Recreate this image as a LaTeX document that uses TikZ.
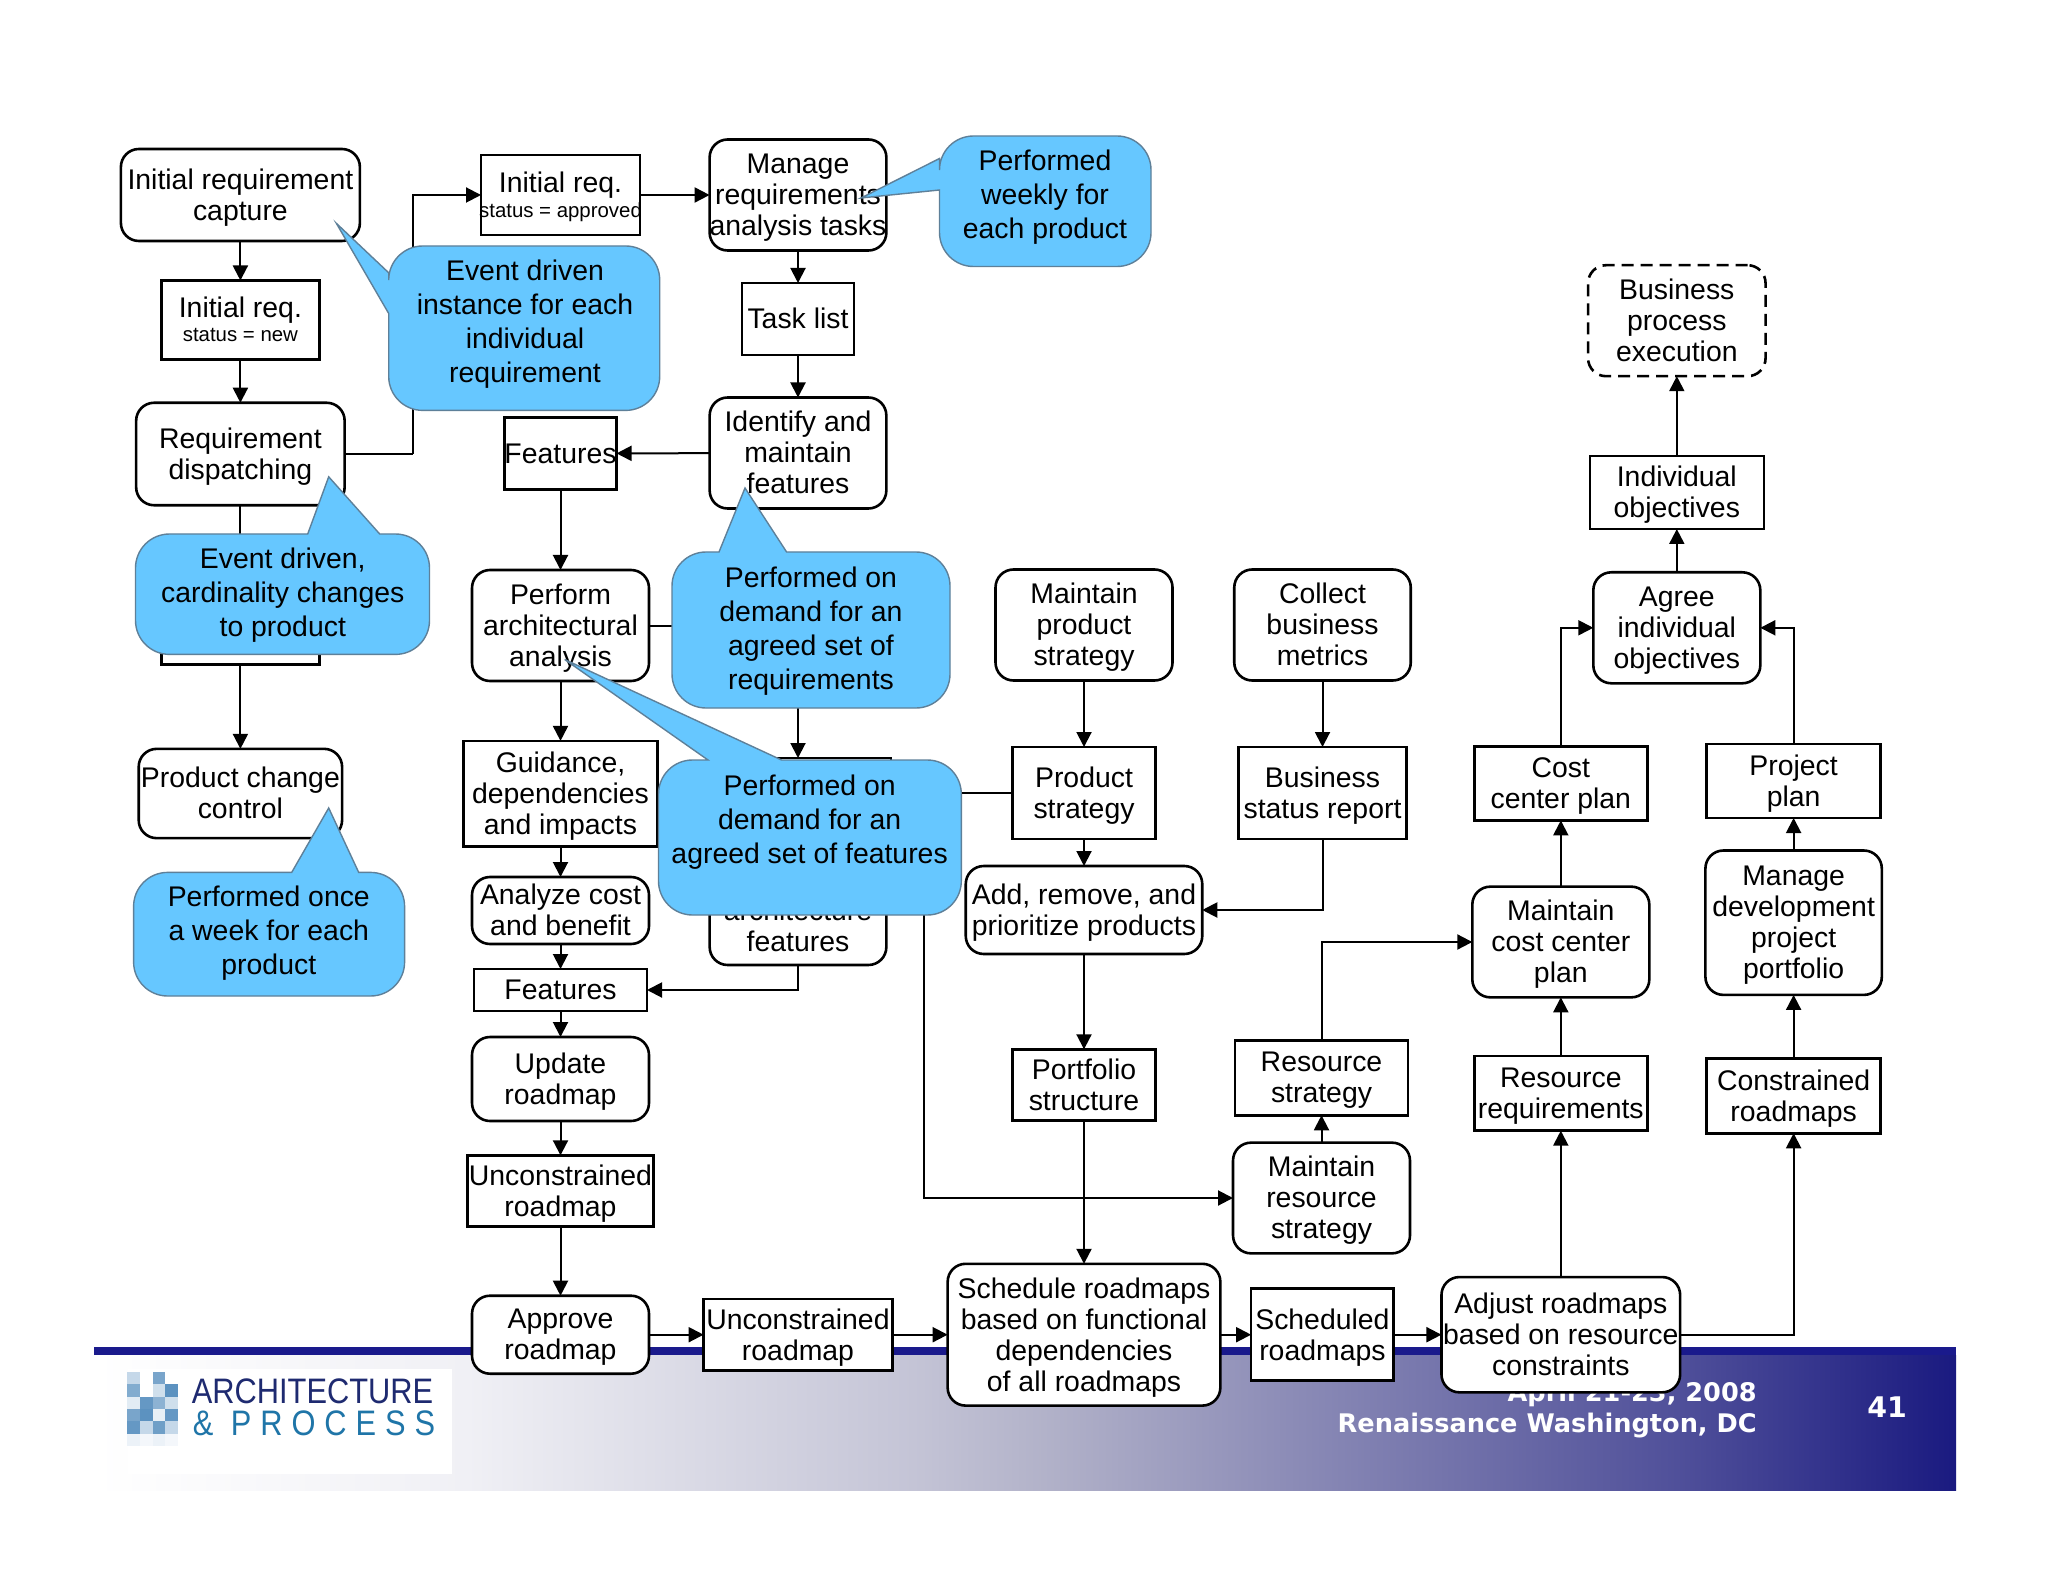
\documentclass[tikz,border=0pt]{standalone}
\usepackage{fontspec}
\setmainfont{Liberation Sans}
\newfontfamily\footerfont{DejaVu Sans}
\newfontfamily\logofont[LetterSpace=29]{Liberation Sans}
\usetikzlibrary{arrows.meta}
\definecolor{callblue}{HTML}{66C7FF}
\definecolor{callline}{HTML}{5E8099}
\definecolor{navyrule}{HTML}{1A1A8C}
\definecolor{navyband}{HTML}{1A1A80}
\definecolor{logoink}{HTML}{1E2A70}
\definecolor{logoteal}{HTML}{1F75A8}
\definecolor{blockblue}{HTML}{3F7FB5}
\definecolor{banda}{HTML}{F0F0F5}
\definecolor{bandb}{HTML}{C4C4D6}
\definecolor{bandc}{HTML}{B2B2C9}
\definecolor{bandd}{HTML}{50509A}
\pgfdeclarehorizontalshading{footerband}{100bp}{color(0bp)=(white); color(25bp)=(white); color(35bp)=(banda); color(47bp)=(bandb); color(50.5bp)=(bandc); color(67.5bp)=(bandd); color(75bp)=(navyband); color(100bp)=(navyband)}

\begin{document}
\begin{tikzpicture}[
    x=0.5pt, y=-0.5pt,
    wh/.style 2 args={minimum width=#1*0.5pt, minimum height=#2*0.5pt},
    basebox/.style={draw=black, fill=white, line width=1.3pt, inner sep=0pt, outer sep=0pt, align=center, text centered, text depth=0.4pt, font=\fontsize{14.2}{15.5}\selectfont},
    oneline/.style={text height=12.85pt, text depth=3pt},
    process/.style={basebox, rectangle, rounded corners=9pt},
    product/.style={basebox, rectangle},
    external/.style={process, dash pattern=on 6pt off 3.5pt},
    bubble/.style={draw=callline, fill=callblue, line width=0.7pt},
    bubbletext/.style={inner sep=0pt, align=center, text depth=0.4pt, font=\fontsize{14.2}{17}\selectfont},
    arrow/.style={-{Triangle[length=7.5pt,width=7.5pt]}, line width=1pt, black},
    plain/.style={line width=1pt, black}
]
\useasboundingbox (0,0) rectangle (2048,1582);
\fill[white] (0,0) rectangle (2048,1582);

% Footer band
\shade[shading=footerband] (94,1355) rectangle (1956,1490);
\fill[navyrule] (94,1347) rectangle (1956,1355);
\fill[white] (128,1369) rectangle (452,1474);
\foreach \cx/\cy/\tone in {0/0/30,2/0/70,0/1/65,2/1/25,3/1/85,0/2/15,1/2/80,2/2/60,3/2/25,0/3/70,1/3/85,2/3/12,3/3/80,0/4/80,1/4/30,2/4/75,3/4/30,0/5/10,1/5/6,2/5/10,3/5/6}
    \fill[blockblue!\tone!white] ({127.3+12.6*\cx},{1371.7+12.4*\cy}) rectangle ++(12.6,12.4);
\node[inner sep=0pt, text=logoink, font=\fontsize{15.4}{17}\selectfont] (logotop) at (312.5,1391) {\scalebox{1}[1.15]{ARCHITECTURE}};
\node[inner sep=0pt, text=logoteal, font=\logofont\fontsize{15.4}{17}\selectfont] (logobottom) at (314,1423) {\scalebox{1}[1.15]{\& PROCESS}};
\node[inner sep=0pt, anchor=east, text=white, font=\footerfont\bfseries\fontsize{12.8}{15.5}\selectfont] (dateline) at (1757,1394) {April 21-23, 2008};
\node[inner sep=0pt, anchor=east, text=white, font=\footerfont\bfseries\fontsize{12.8}{15.5}\selectfont] (placeline) at (1757,1425.5) {Renaissance Washington, DC};
\node[inner sep=0pt, text=white, font=\footerfont\bfseries\fontsize{14.2}{15.5}\selectfont] (pagenum) at (1887,1407) {41};

% Left column
\node[process, wh={239}{92}] (capture) at (240.4,195) {Initial requirement\\capture};
\node[product, wh={158}{79}] (reqnew) at (240.4,320) {Initial req.\\[-3.5pt]{\fontsize{10.2}{12}\selectfont status = new}};
\node[process, wh={208.5}{102.5}] (dispatching) at (240.4,454) {Requirement\\dispatching};
\node[product, wh={158}{75}] (cardinal) at (240.4,627) {};
\node[process, wh={203.4}{89.3}] (changectl) at (240.4,793.5) {Product change\\control};

% Second column
\node[product, wh={159}{80}] (reqapproved) at (560.5,195) {Initial req.\\[-3pt]\makebox[0pt][c]{\fontsize{10.2}{12}\selectfont status = approved}};
\node[product, oneline, wh={111.6}{72}] (features) at (560.5,453.5) {Features};
\node[process, wh={177}{111}] (archanalysis) at (560.5,625.5) {Perform\\architectural\\analysis};
\node[product, wh={194}{105.6}] (guidance) at (560.5,793.7) {Guidance,\\dependencies\\and impacts};
\node[process, wh={177}{67}] (costbenefit) at (560.5,910.5) {Analyze cost\\and benefit};
\node[product, oneline, wh={173}{42}] (featuresb) at (560.5,990) {Features};
\node[process, wh={177}{84}] (updatemap) at (560.5,1079) {Update\\roadmap};
\node[product, wh={186}{71.4}] (unconstr) at (560.5,1191) {Unconstrained\\roadmap};
\node[process, wh={177}{78}] (approve) at (560.5,1334.7) {Approve\\roadmap};

% Third column
\node[process, wh={176.7}{111}] (manage) at (798,195) {Manage\\requirements\\analysis tasks};
\node[product, oneline, wh={112}{72}] (tasklist) at (798,319) {Task list};
\node[process, wh={176.7}{111}] (identify) at (798,453) {Identify and\\maintain\\features};
\node[process, wh={177}{111}] (demandreq) at (798,625.5) {};
\node[product, wh={179}{70}] (demandout) at (801.5,793) {};
\node[process, wh={176.7}{110}] (archfeatures) at (798,910) {\rule{0pt}{10.4pt}\\architecture\\features};
\node[product, wh={188.8}{71.4}] (unconstrb) at (798,1334.7) {Unconstrained\\roadmap};

% Fourth column
\node[process, wh={177}{111}] (prodstrategy) at (1084,625) {Maintain\\product\\strategy};
\node[product, wh={142.6}{92}] (strategy) at (1084,793) {Product\\strategy};
\node[process, wh={236.5}{88}] (addremove) at (1084,910) {Add, remove, and\\prioritize products};
\node[product, wh={142.6}{71.4}] (portfolio) at (1084,1085) {Portfolio\\structure};
\node[process, wh={272.7}{141.8}] (schedule) at (1084,1334.7) {Schedule roadmaps\\based on functional\\dependencies\\of all roadmaps};

% Fifth column
\node[process, wh={176.5}{111}] (metrics) at (1322.5,625) {Collect\\business\\metrics};
\node[product, wh={168}{92}] (status) at (1322.5,793) {Business\\status report};
\node[product, wh={173}{74.5}] (resstrategy) at (1321.5,1078) {Resource\\strategy};
\node[process, wh={177}{110.7}] (maintres) at (1321.5,1198) {Maintain\\resource\\strategy};
\node[product, wh={142.6}{92}] (scheduled) at (1322.4,1334.7) {Scheduled\\roadmaps};

% Right columns
\node[external, wh={177.5}{111}] (execution) at (1676.8,320.7) {Business\\process\\execution};
\node[product, wh={174}{73}] (objectives) at (1676.8,492.5) {Individual\\objectives};
\node[process, wh={167}{111}] (agree) at (1676.8,627.8) {Agree\\individual\\objectives};
\node[product, wh={173}{74}] (costplan) at (1560.8,783.4) {Cost\\center plan};
\node[process, wh={177}{110.7}] (maintcost) at (1560.8,942) {Maintain\\cost center\\plan};
\node[product, wh={173}{74.5}] (resreq) at (1560.8,1093.4) {Resource\\requirements};
\node[process, wh={238.7}{115.3}] (adjust) at (1560.8,1334.7) {Adjust roadmaps\\based on resource\\constraints};
\node[product, wh={173.7}{74}] (projplan) at (1793.6,781) {Project\\plan};
\node[process, wh={176.4}{144.4}] (portfoliomgr) at (1793.6,922.7) {Manage\\development\\project\\portfolio};
\node[product, wh={173.8}{74.5}] (constrained) at (1793.6,1096) {Constrained\\roadmaps};

\coordinate (jog) at (413,454);
\coordinate (branch) at (924.4,793);

% Left arrows
\draw[arrow] (capture) -- (reqnew);
\draw[arrow] (reqnew) -- (dispatching);
\draw[plain] (dispatching) -- (cardinal);
\draw[arrow] (cardinal) -- (changectl);
\draw[plain] (dispatching.east) -- (jog);
\draw[arrow] (jog) |- (reqapproved);
\draw[arrow] (reqapproved) -- (manage);

% Centre arrows
\draw[arrow] (manage) -- (tasklist);
\draw[arrow] (tasklist) -- (identify);
\draw[arrow] (identify) -- (features);
\draw[arrow] (features) -- (archanalysis);
\draw[arrow] (archanalysis) -- (guidance);
\draw[arrow] (guidance) -- (costbenefit);
\draw[arrow] (costbenefit) -- (featuresb);
\draw[arrow] (featuresb) -- (updatemap);
\draw[arrow] (updatemap) -- (unconstr);
\draw[arrow] (unconstr) -- (approve);
\draw[arrow] (approve) -- (unconstrb);
\draw[arrow] (unconstrb) -- (schedule);
\draw[arrow] (schedule) -- (scheduled);
\draw[arrow] (scheduled) -- (adjust);
\draw[plain] (archanalysis) -- (demandreq);
\draw[arrow] (demandreq) -- (demandreq |- demandout.north);
\draw[arrow] (demandout) -- (archfeatures);
\draw[arrow] (archfeatures) |- (featuresb);
\draw[plain] (demandout) -- (strategy);
\draw[arrow] (branch) |- (maintres);

% Strategy arrows
\draw[arrow] (prodstrategy) -- (strategy);
\draw[arrow] (strategy) -- (addremove);
\draw[arrow] (addremove) -- (portfolio);
\draw[arrow] (portfolio) -- (schedule);
\draw[arrow] (metrics) -- (status);
\draw[arrow] (status) |- (addremove);
\draw[arrow] (maintres) -- (resstrategy);
\draw[arrow] (resstrategy) |- (maintcost);

% Resource arrows
\draw[arrow] (adjust) -- (resreq);
\draw[arrow] (resreq) -- (maintcost);
\draw[arrow] (maintcost) -- (costplan);
\draw[arrow] (costplan) |- (agree);
\draw[arrow] (adjust.east) -| (constrained);
\draw[arrow] (constrained) -- (portfoliomgr);
\draw[arrow] (portfoliomgr) -- (projplan);
\draw[arrow] (projplan) |- (agree);
\draw[arrow] (agree) -- (objectives);
\draw[arrow] (objectives) -- (execution);

% Callouts
\draw[bubble] (388.7,272.8) -- (336.4,223.4) -- (388.7,313.5) [rounded corners=17pt] -- (388.7,410.4) -- (659.7,410.4) -- (659.7,246) -- (388.7,246) [sharp corners] -- cycle;
\node[bubbletext] (eventinstance) at (525,322) {Event driven\\instance for each\\individual\\requirement};

\draw[bubble] (939.5,158.5) -- (861,198) -- (939.5,190) [rounded corners=17pt] -- (939.5,266.5) -- (1151,266.5) -- (1151,136) -- (939.5,136) [sharp corners] -- cycle;
\node[bubbletext] (weekly) at (1045,195) {Performed\\weekly for\\each product};

\draw[bubble] (307.7,534) -- (328.7,476.8) -- (379.7,534) [rounded corners=17pt] -- (429.5,534) -- (429.5,654.4) -- (135.5,654.4) -- (135.5,534) [sharp corners] -- (307.7,534) -- cycle;
\node[bubbletext] (eventcard) at (282.8,592.7) {Event driven,\\cardinality changes\\to product};

\draw[bubble] (719,552) -- (745,488) -- (786.6,552) [rounded corners=17pt] -- (950,552) -- (950,708) -- (672,708) -- (672,552) [sharp corners] -- (719,552) -- cycle;
\node[bubbletext] (demandone) at (811,629) {Performed on\\demand for an\\agreed set of\\requirements};

\draw[bubble] (708,760) -- (564.7,659.5) -- (781.5,760) [rounded corners=17pt] -- (961.3,760) -- (961.3,915) -- (658.5,915) -- (658.5,760) [sharp corners] -- (708,760) -- cycle;
\node[bubbletext] (demandtwo) at (809.6,820) {Performed on\\demand for an\\agreed set of features};

\draw[bubble] (291.7,872.4) -- (328.7,808) -- (358.7,872.4) [rounded corners=17pt] -- (404.6,872.4) -- (404.6,996) -- (133.6,996) -- (133.6,872.4) [sharp corners] -- (291.7,872.4) -- cycle;
\node[bubbletext] (onceweek) at (268.8,931) {Performed once\\a week for each\\product};

\end{tikzpicture}
\end{document}
